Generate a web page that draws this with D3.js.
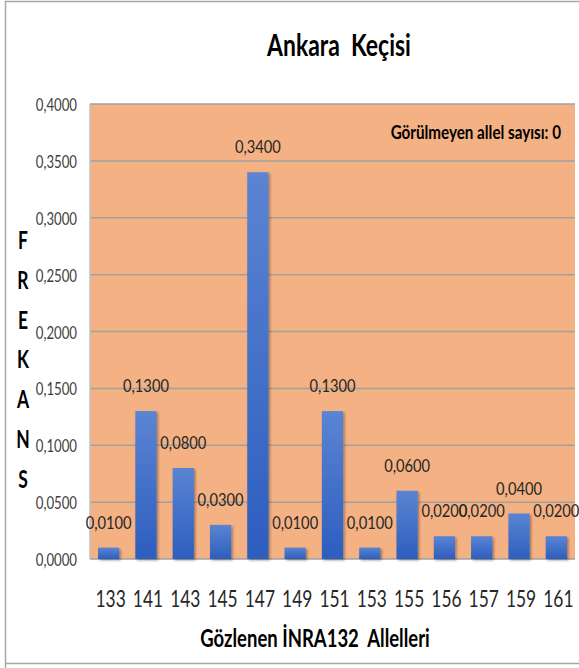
<!DOCTYPE html>
<html><head><meta charset="utf-8">
<script src="https://cdn.jsdelivr.net/npm/d3@7"></script>
<style>
body{margin:0;background:#fff;}
svg text{font-family:Lato,"Open Sans",sans-serif;white-space:pre;}
</style></head>
<body><svg id="c" width="579" height="668"></svg>
<script>
const categories = ["133","141","143","145","147","149","151","153","155","156","157","159","161"];
const values = [0.01,0.13,0.08,0.03,0.34,0.01,0.13,0.01,0.06,0.02,0.02,0.04,0.02];
const yTicks = [0,0.05,0.1,0.15,0.2,0.25,0.3,0.35,0.4];
const yLabelLetters = ["F","R","E","K","A","N","S"];
const title = "Ankara  Keçisi";
const xTitle = "Gözlenen İNRA132  Allelleri";
const note = "Görülmeyen allel sayısı: 0";

const svg = d3.select("#c");
const fmt = v => v.toFixed(4).replace(".", ",");
const L=90, R=575, T=104, B=559;

// outer border
svg.append("path").attr("d","M5.5,668 V1.5 H579 M5.5,663.5 H579").attr("fill","none").attr("stroke","#a6a6a6").attr("stroke-width",1.5);

const x = d3.scaleBand().domain(categories).range([L,R]).paddingInner(0.43).paddingOuter(0.215);
const y = d3.scaleLinear().domain([0,0.4]).range([B,T]);

const defs = svg.append("defs");
const g = defs.append("linearGradient").attr("id","bg").attr("x1",0).attr("y1",0).attr("x2",0).attr("y2",1);
g.append("stop").attr("offset","0%").attr("stop-color","#5b84d2");
g.append("stop").attr("offset","100%").attr("stop-color","#2d5ebf");
const f = defs.append("filter").attr("id","sh").attr("x","-20%").attr("y","-20%").attr("width","150%").attr("height","150%");
f.append("feDropShadow").attr("dx",1.5).attr("dy",1.5).attr("stdDeviation",1.2).attr("flood-color","#000").attr("flood-opacity",0.35);

svg.append("rect").attr("x",L).attr("y",T).attr("width",R-L).attr("height",B-T).attr("fill","#f4b183");

svg.append("g").selectAll("line").data(yTicks).join("line")
  .attr("x1",L).attr("x2",R).attr("y1",d=>y(d)).attr("y2",d=>y(d))
  .attr("stroke","#a0a0a0").attr("stroke-width",1.5);
svg.append("line").attr("x1",L).attr("x2",L).attr("y1",T).attr("y2",B).attr("stroke","#bfbfbf").attr("stroke-width",1.5);

function ctext(parent, x0, y0, sx, str, size, weight, anchor, fill){
  return parent.append("text").attr("transform",`translate(${x0},${y0}) scale(${sx},1)`)
    .attr("text-anchor",anchor).attr("font-size",size).attr("font-weight",weight).attr("fill",fill).text(str);
}

// y axis labels
const ya = svg.append("g").attr("transform",`translate(${L-13},0)`).call(d3.axisLeft(y).tickValues(yTicks).tickFormat(fmt).tickSize(0));
ya.select(".domain").remove();
ya.selectAll("text").attr("x",0).attr("dy",null).attr("y",6.5).attr("transform","scale(0.8,1)")
  .attr("font-size",16.5).attr("fill","#404040");

// bars
svg.append("g").selectAll("rect").data(values).join("rect")
  .attr("x",(d,i)=>x(categories[i])).attr("width",x.bandwidth())
  .attr("y",d=>y(d)).attr("height",d=>B-y(d))
  .attr("fill","url(#bg)").attr("filter","url(#sh)");

// value labels
const vl = svg.append("g");
values.forEach((v,i)=>ctext(vl, x(categories[i])+x.bandwidth()/2, y(v)-19, 0.84, fmt(v), 17.5, "normal", "middle", "#262626"));

// x axis labels
const xa = svg.append("g").attr("transform",`translate(2,${B})`).call(d3.axisBottom(x).tickSize(0));
xa.select(".domain").remove();
xa.selectAll("text").attr("dy",null).attr("y",48).attr("transform","scale(0.74,1)")
  .attr("font-size",23.5).attr("fill","#262626");

// titles
ctext(svg, 339, 56, 0.74, title, 31, "bold", "middle", "#000");
ctext(svg, 315, 647, 0.74, xTitle, 25, "bold", "middle", "#000");
ctext(svg, 561, 139, 0.78, note, 19.5, "bold", "end", "#000");

const yl = svg.append("g");
yLabelLetters.forEach((d,i)=>ctext(yl, 23, 249+i*39.8, 0.7, d, 25, "bold", "middle", "#000"));
</script></body></html>
